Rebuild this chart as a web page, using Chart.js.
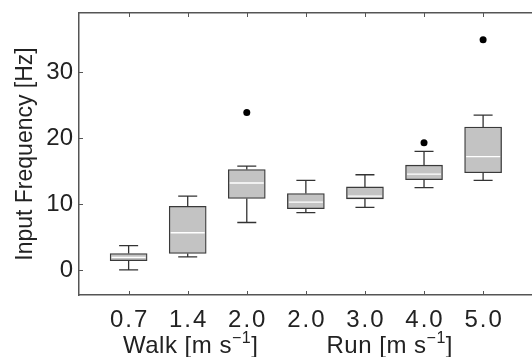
<!DOCTYPE html>
<html>
<head>
<meta charset="utf-8">
<script src="https://cdn.jsdelivr.net/npm/chart.js@4/dist/chart.umd.min.js"></script>
<style>
  html, body { margin: 0; padding: 0; background: #fff; overflow: hidden; }
</style>
</head>
<body>
<canvas id="c" width="545" height="357"></canvas>
<script>
// speeds (tick labels) and box plot stats
const categories = ['0.7', '1.4', '2.0', '2.0', '3.0', '4.0', '5.0'];
const whiskerLow  = [0.0, 2.0, 7.2, 8.7, 9.5, 12.5, 13.6];
const q1          = [1.4, 2.5, 10.85, 9.3, 10.8, 13.7, 14.75];
const median      = [1.9, 5.65, 13.2, 10.3, 11.2, 14.55, 17.2];
const q3          = [2.5, 9.65, 15.25, 11.6, 12.6, 15.9, 21.7];
const whiskerHigh = [3.7, 11.2, 15.75, 13.6, 14.45, 18.0, 23.5];
const outliers    = [null, null, 23.9, null, null, 19.3, 34.95];
const yTicks = [0, 10, 20, 30];
const groupTitles = [{ text: 'Walk [m s', at: 2.05 }, { text: 'Run [m s', at: 5.42 }];

const FONT = '"Liberation Sans", Arial, sans-serif';
const AXIS = '#555';
const TEXT = '#222';
const X_MIN = 0.16, X_MAX = 7.98;

// whiskers, caps, medians, inner tick marks
const boxExtras = {
  id: 'boxExtras',
  afterDatasetsDraw(chart) {
    const ctx = chart.ctx, x = chart.scales.x, y = chart.scales.y;
    const left = x.left, top = y.top, bottom = y.bottom;
    ctx.save();
    categories.forEach((c, i) => {
      const px = x.getPixelForValue(i + 1);
      ctx.strokeStyle = '#333';
      ctx.lineWidth = 1.3;
      ctx.beginPath();
      ctx.moveTo(px, y.getPixelForValue(q3[i]));
      ctx.lineTo(px, y.getPixelForValue(whiskerHigh[i]));
      ctx.moveTo(px, y.getPixelForValue(q1[i]));
      ctx.lineTo(px, y.getPixelForValue(whiskerLow[i]));
      ctx.moveTo(px - 9.5, y.getPixelForValue(whiskerHigh[i]));
      ctx.lineTo(px + 9.5, y.getPixelForValue(whiskerHigh[i]));
      ctx.moveTo(px - 9.5, y.getPixelForValue(whiskerLow[i]));
      ctx.lineTo(px + 9.5, y.getPixelForValue(whiskerLow[i]));
      ctx.stroke();
      ctx.strokeStyle = '#fff';
      ctx.beginPath();
      ctx.moveTo(px - 17, y.getPixelForValue(median[i]));
      ctx.lineTo(px + 17, y.getPixelForValue(median[i]));
      ctx.stroke();
    });

    ctx.strokeStyle = AXIS;
    ctx.lineWidth = 1;
    ctx.beginPath();
    categories.forEach((c, i) => {
      const px = Math.round(x.getPixelForValue(i + 1)) + 0.5;
      ctx.moveTo(px, top); ctx.lineTo(px, top + 4);
      ctx.moveTo(px, bottom); ctx.lineTo(px, bottom - 4);
    });
    yTicks.forEach(v => {
      const py = Math.round(y.getPixelForValue(v)) + 0.5;
      ctx.moveTo(left, py); ctx.lineTo(left + 4, py);
    });
    ctx.stroke();
    ctx.restore();
  },
  // speed labels and group titles under the x axis
  afterDraw(chart) {
    const ctx = chart.ctx, x = chart.scales.x;
    ctx.save();
    ctx.fillStyle = TEXT;
    ctx.textBaseline = 'alphabetic';
    ctx.textAlign = 'left';

    ctx.font = '24px ' + FONT;
    ctx.letterSpacing = '2px';
    categories.forEach((c, i) => {
      const w = ctx.measureText(c).width - 2;
      ctx.fillText(c, x.getPixelForValue(i + 1) - w / 2, 326.5);
    });

    ctx.letterSpacing = '0.5px';
    groupTitles.forEach(g => {
      ctx.font = '24px ' + FONT;
      const w1 = ctx.measureText(g.text).width;
      const w3 = ctx.measureText(']').width;
      ctx.font = '16px ' + FONT;
      const w2 = ctx.measureText('\u22121').width;
      const sx = x.getPixelForValue(g.at) - (w1 + w2 + w3) / 2;
      const base = 353;
      ctx.font = '24px ' + FONT;
      ctx.fillText(g.text, sx, base);
      ctx.fillText(']', sx + w1 + w2, base);
      ctx.font = '16px ' + FONT;
      ctx.fillText('\u22121', sx + w1, base - 10);
    });
    ctx.restore();
  }
};

new Chart(document.getElementById('c'), {
  data: {
    datasets: [
      {
        type: 'bar',
        data: categories.map((c, i) => ({ x: i + 1, y: [q1[i], q3[i]] })),
        backgroundColor: '#c3c3c3',
        borderColor: '#3a3a3a',
        borderWidth: 1.3,
        borderSkipped: false,
        barThickness: 37
      },
      {
        type: 'scatter',
        data: outliers.map((v, i) => v === null ? null : { x: i + 1, y: v }).filter(p => p),
        pointRadius: 3.5,
        pointBackgroundColor: '#000',
        pointBorderWidth: 0
      }
    ]
  },
  plugins: [boxExtras],
  options: {
    responsive: false,
    devicePixelRatio: 1,
    animation: false,
    layout: { padding: { top: 13, left: 0, right: 0, bottom: 0 } },
    plugins: { legend: { display: false }, tooltip: { enabled: false } },
    scales: {
      x: {
        type: 'linear',
        offset: false,
        min: X_MIN,
        max: X_MAX,
        afterBuildTicks: s => { s.ticks = categories.map((c, i) => ({ value: i + 1 })); },
        afterFit: s => { s.height = 62; s.paddingLeft = 0; s.paddingRight = 0; },
        ticks: { display: false },
        grid: { display: false, drawTicks: false },
        border: { color: AXIS, width: 1.5 }
      },
      // top frame line
      xTop: {
        type: 'linear',
        position: 'top',
        offset: false,
        min: X_MIN,
        max: X_MAX,
        afterFit: s => { s.height = 0; s.paddingLeft = 0; s.paddingRight = 0; },
        ticks: { display: false },
        grid: { display: true, drawOnChartArea: false, drawTicks: false },
        border: { display: true, color: AXIS, width: 1.5 }
      },
      y: {
        min: -3.8,
        max: 39,
        afterBuildTicks: s => { s.ticks = yTicks.map(v => ({ value: v })); },
        afterFit: s => { s.width = 79; s.paddingTop = 0; s.paddingBottom = 0; },
        ticks: {
          font: { family: FONT, size: 24 },
          color: TEXT,
          padding: 6
        },
        grid: { display: false, drawTicks: false },
        border: { color: AXIS, width: 1.5 },
        title: {
          display: true,
          text: 'Input Frequency [Hz]',
          font: { family: FONT, size: 23 },
          color: TEXT,
          padding: { top: 12, bottom: 0 }
        }
      }
    }
  }
});
</script>
</body>
</html>
